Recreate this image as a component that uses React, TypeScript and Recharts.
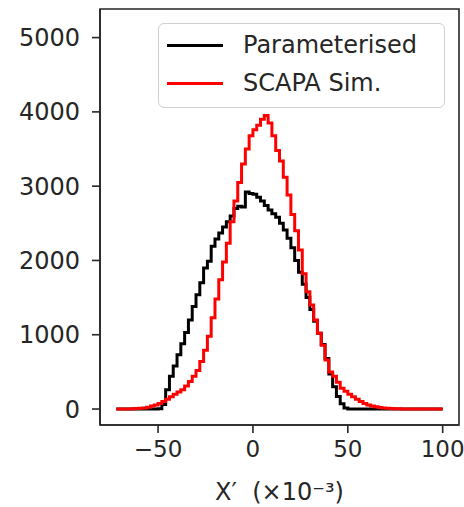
import { Line, LineChart, ReferenceArea, XAxis, YAxis } from "recharts";

// histogram bins: left edges from -72, width 2 (x 10^-3)
const binStart = -72;
const binWidth = 2;

const parameterisedCounts = [
  0, 0, 0, 0, 0, 0, 0, 0, 0, 0, 0,
  5, 60, 260, 440, 580, 730, 880, 1030, 1200, 1380,
  1540, 1700, 1900, 1990, 2190, 2290, 2370, 2450, 2520, 2600,
  2700, 2730, 2720, 2920, 2900, 2890, 2850, 2800, 2740, 2680,
  2630, 2580, 2500, 2410, 2300, 2170, 2000, 1840, 1680, 1500,
  1340, 1180, 1020, 870, 680, 470, 300, 170, 70, 15,
  0, 0, 0, 0, 0, 0, 0, 0, 0, 0, 0, 0, 0, 0, 0, 0, 0, 0, 0, 0, 0, 0, 0, 0, 0,
];

const scapaCounts = [
  0, 0, 0, 2, 4, 6, 10, 15, 25, 40, 55,
  75, 100, 130, 165, 200, 230, 260, 310, 370, 440,
  520, 640, 790, 980, 1230, 1480, 1740, 1980, 2230, 2520,
  2800, 3050, 3300, 3500, 3680, 3760, 3820, 3900, 3950, 3850,
  3680, 3480, 3340, 3120, 2880, 2620, 2400, 2140, 1820, 1580,
  1400, 1200, 1020, 860, 660, 500, 440, 360, 280, 240,
  200, 165, 130, 100, 75, 55, 40, 30, 22, 15, 10, 7, 5, 3, 2,
  0, 0, 0, 0, 0, 0, 0, 0, 0, 0,
];

const xTicks = [-50, 0, 50, 100];
const yTicks = [0, 1000, 2000, 3000, 4000, 5000];

const seriesNames = ["Parameterised", "SCAPA Sim."];
const seriesColors = ["#000000", "#ff0000"];

// one row per bin edge; the last edge repeats the final bin so the step closes
const data = [...parameterisedCounts, 0].map((_, i) => {
  const last = Math.min(i, parameterisedCounts.length - 1);
  return {
    x: binStart + i * binWidth,
    param: parameterisedCounts[last],
    scapa: scapaCounts[last],
  };
});

const xDomain = [-80.6, 108.6];
const yDomain = [-215, 5385];

const textColor = "#262626";
const font = "DejaVu Sans";
const fontSize = 24;

function LegendBox() {
  return (
    <div
      style={{
        position: "absolute",
        left: 158,
        top: 23,
        width: 287,
        height: 85,
        border: "1.5px solid #d0d0d0",
        borderRadius: 6,
        background: "rgba(255,255,255,0.8)",
        boxSizing: "border-box",
        fontFamily: font,
        fontSize: fontSize,
        color: textColor,
      }}
    >
      {seriesNames.map((name, i) => (
        <div
          key={name}
          style={{
            position: "absolute",
            left: 8,
            top: 6 + i * 38,
            display: "flex",
            alignItems: "center",
            whiteSpace: "nowrap",
            lineHeight: "30px",
          }}
        >
          <div
            style={{
              width: 56,
              height: 3,
              background: seriesColors[i],
              marginRight: 20,
            }}
          />
          <span>{name}</span>
        </div>
      ))}
    </div>
  );
}

export default function App() {
  return (
    <div
      style={{
        position: "absolute",
        left: 0,
        top: 0,
        width: 464,
        height: 507,
        background: "#fff",
      }}
    >
      <LineChart
        width={464}
        height={507}
        data={data}
        margin={{ top: 9, right: 5, bottom: 0, left: 0 }}
        style={{ fontFamily: font }}
      >
        <XAxis
          dataKey="x"
          type="number"
          domain={xDomain}
          ticks={xTicks}
          allowDataOverflow
          height={82}
          tickSize={8}
          tickMargin={8}
          tick={{ fontSize: 23, fill: textColor }}
          tickFormatter={(v: number) => (v < 0 ? `\u2212${Math.abs(v)}` : `${v}`)}
          stroke={textColor}
          strokeWidth={1.6}
          label={{
            value: "X\u2032\u00a0\u00a0(\u00d710\u207b\u00b3)",
            position: "insideBottom",
            offset: 7,
            fontSize: fontSize,
            fill: textColor,
          }}
        />
        <YAxis
          type="number"
          domain={yDomain}
          ticks={yTicks}
          allowDataOverflow
          width={100}
          tickSize={8}
          tickMargin={12}
          tick={{ fontSize: fontSize, fill: textColor }}
          stroke={textColor}
          strokeWidth={1.6}
        />
        <ReferenceArea
          x1={xDomain[0]}
          x2={xDomain[1]}
          y1={yDomain[0]}
          y2={yDomain[1]}
          fill="none"
          stroke={textColor}
          strokeWidth={1.6}
        />
        <Line
          type="stepAfter"
          dataKey="param"
          stroke={seriesColors[0]}
          strokeWidth={3}
          dot={false}
          isAnimationActive={false}
        />
        <Line
          type="stepAfter"
          dataKey="scapa"
          stroke={seriesColors[1]}
          strokeWidth={3}
          dot={false}
          isAnimationActive={false}
        />
      </LineChart>
      <LegendBox />
    </div>
  );
}
